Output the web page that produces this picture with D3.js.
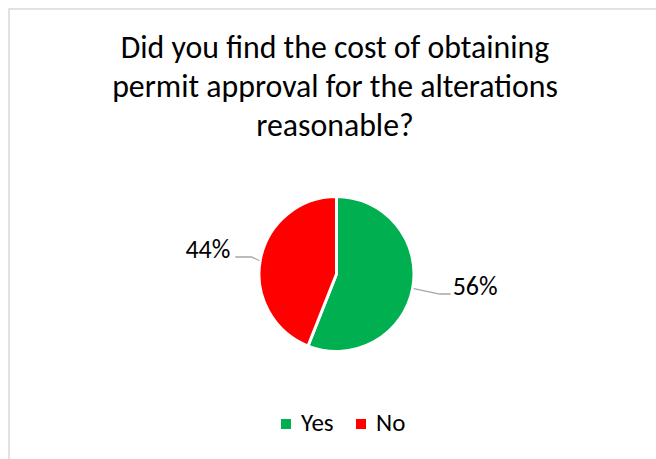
<!DOCTYPE html>
<html>
<head>
<meta charset="utf-8">
<script src="https://cdnjs.cloudflare.com/ajax/libs/d3/7.8.5/d3.min.js"></script>
<style>
  html, body { margin: 0; padding: 0; background: #fff; }
  svg { display: block; font-family: Carlito, Calibri, Lato, sans-serif; }
</style>
</head>
<body>
<svg id="chart" width="656" height="459"></svg>
<script>
// Survey answers and their shares (percent)
const categories = ["Yes", "No"];
const shares = [56, 44];
const colors = ["#00B050", "#FF0000"];
const titleLines = [
  "Did you find the cost of obtaining",
  "permit approval for the alterations",
  "reasonable?"
];

const svg = d3.select("#chart");
const W = 656, H = 459;

// chart-area frame (runs past the right and bottom edges)
svg.append("rect")
  .attr("x", 9).attr("y", 9)
  .attr("width", W + 20).attr("height", H + 20)
  .attr("fill", "#fff")
  .attr("stroke", "#d9d9d9").attr("stroke-width", 1.5);

// title
const title = svg.append("text")
  .attr("text-anchor", "middle")
  .attr("fill", "#000")
  .attr("font-size", 31.8);
titleLines.forEach((t, i) => {
  title.append("tspan").attr("x", 335).attr("y", 58 + i * 39).text(t);
});

// pie
const cx = 336.5, cy = 274, r = 77.5;
const pie = d3.pie().sort(null).value(d => d.v);
const arcs = pie(categories.map((c, i) => ({ c, v: shares[i], col: colors[i] })));
const arc = d3.arc().innerRadius(0).outerRadius(r);
const g = svg.append("g").attr("transform", `translate(${cx},${cy})`);
g.selectAll("path").data(arcs).enter().append("path")
  .attr("d", arc)
  .attr("fill", d => d.data.col)
  .attr("stroke", "#fff").attr("stroke-width", 3)
  .attr("stroke-linejoin", "round");

// data labels with leader lines
arcs.forEach(d => {
  const mid = (d.startAngle + d.endAngle) / 2;
  const sx = Math.sin(mid) * r, sy = -Math.cos(mid) * r;
  const right = sx > 0;
  const pts = right
    ? [[sx + 1, sy], [sx + 27, sy + 5.5], [sx + 38, sy + 5.5]]
    : [[sx - 1, sy + 1], [sx - 9, sy - 2.5], [sx - 25, sy - 2.5]];
  g.append("polyline")
    .attr("points", pts.map(p => p.join(",")).join(" "))
    .attr("fill", "none").attr("stroke", "#a6a6a6").attr("stroke-width", 1.3);
  const end = pts[2];
  g.append("text")
    .attr("x", right ? end[0] + 2 : end[0] - 5)
    .attr("y", right ? end[1] + 0.5 : end[1] + 1.5)
    .attr("text-anchor", right ? "start" : "end")
    .attr("font-size", 26)
    .attr("fill", "#000")
    .text(d.data.v + "%");
});

// legend
const legend = svg.append("g").attr("transform", "translate(281,419)");
const items = [{ x: 0, i: 0 }, { x: 75, i: 1 }];
items.forEach(it => {
  legend.append("rect")
    .attr("x", it.x).attr("y", 0).attr("width", 10).attr("height", 10)
    .attr("fill", colors[it.i]);
  legend.append("text")
    .attr("x", it.x + 20).attr("y", 12)
    .attr("font-size", 25).attr("fill", "#000")
    .text(categories[it.i]);
});
</script>
</body>
</html>
